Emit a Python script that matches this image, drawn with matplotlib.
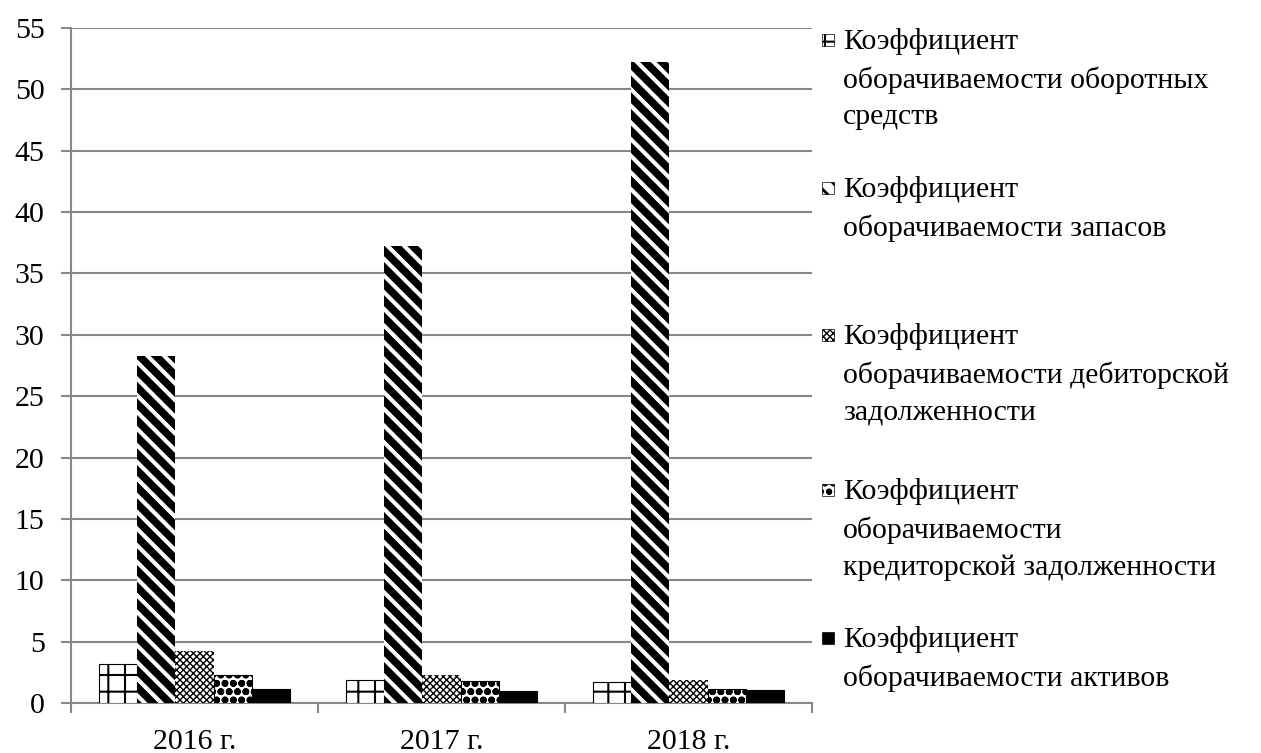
import numpy as np
import matplotlib
matplotlib.use('Agg')
import matplotlib.pyplot as plt
from matplotlib.patches import Rectangle

plt.rcParams['font.family'] = ['Liberation Serif', 'DejaVu Serif']
plt.rcParams['hatch.color'] = 'black'
plt.rcParams['hatch.linewidth'] = 1.0

years = ['2016 г.', '2017 г.', '2018 г.']
series_names = [
    'Коэффициент\nоборачиваемости оборотных\nсредств',
    'Коэффициент\nоборачиваемости запасов',
    'Коэффициент\nоборачиваемости дебиторской\nзадолженности',
    'Коэффициент\nоборачиваемости\nкредиторской задолженности',
    'Коэффициент\nоборачиваемости активов',
]
oborotnye = [3.15, 1.9, 1.7]
zapasy = [28.3, 37.2, 52.2]
debitorka = [4.2, 2.3, 1.85]
kreditorka = [2.25, 1.8, 1.15]
aktivy = [1.15, 0.98, 1.1]
values = [oborotnye, zapasy, debitorka, kreditorka, aktivy]

hatches = ['+', '\\\\', 'xxxxx', 'oo', '']
faces = ['white', 'white', 'white', 'white', 'black']
edge_lw = [0.8, 0, 0, 0.8, 0.8]
hatch_lw = [1.5, 5.5, 1.0, 2.5, 1.0]

fs = 21.5

fig = plt.figure(figsize=(12.61, 7.53), dpi=100)
ax = fig.add_axes([71 / 1261, 50 / 753, (812 - 71) / 1261, (703 - 28) / 753])

x = np.arange(len(years))
w = 0.155
for i, vals in enumerate(values):
    bars = ax.bar(x + (i - 2) * w, vals, w, color=faces[i], edgecolor='black',
                  linewidth=edge_lw[i], hatch=hatches[i], zorder=3)
    for b in bars:
        b.set_hatch_linewidth(hatch_lw[i])

ax.set_ylim(0, 55)
ax.set_yticks(range(0, 56, 5))
ax.set_xlim(-0.5, 2.5)
ax.set_xticks(x)
ax.set_xticklabels(years)
ax.set_xticks([-0.5, 0.5, 1.5, 2.5], minor=True)
ax.tick_params(axis='x', which='major', length=0, pad=19, labelsize=fs)
ax.tick_params(axis='x', which='minor', length=7, color='#888888', width=1.5)
ax.tick_params(axis='y', length=7, color='#888888', width=1.5, pad=12, labelsize=fs)
ax.yaxis.grid(True, color='#888888', linewidth=1.5, zorder=0)
ax.set_axisbelow(True)
for s in ['top', 'right']:
    ax.spines[s].set_visible(False)
for s in ['left', 'bottom']:
    ax.spines[s].set_color('#888888')
    ax.spines[s].set_linewidth(1.5)

# legend drawn by hand, marker next to the first line like in Excel
legend_y = [40, 188, 335, 490, 638]
for i, name in enumerate(series_names):
    yc = legend_y[i]
    r = Rectangle((822 / 1261, 1 - (yc + 6) / 753), 12 / 1261, 12 / 753,
                  transform=fig.transFigure, facecolor=faces[i], edgecolor='black',
                  linewidth=0.5, hatch=hatches[i])
    r.set_hatch_linewidth(min(hatch_lw[i], 2))
    fig.patches.append(r)
    fig.text(843 / 1261, 1 - (yc - 12) / 753, name, fontsize=fs, va='top', ha='left',
             linespacing=1.52)

fig.savefig('out.png', dpi=100)
